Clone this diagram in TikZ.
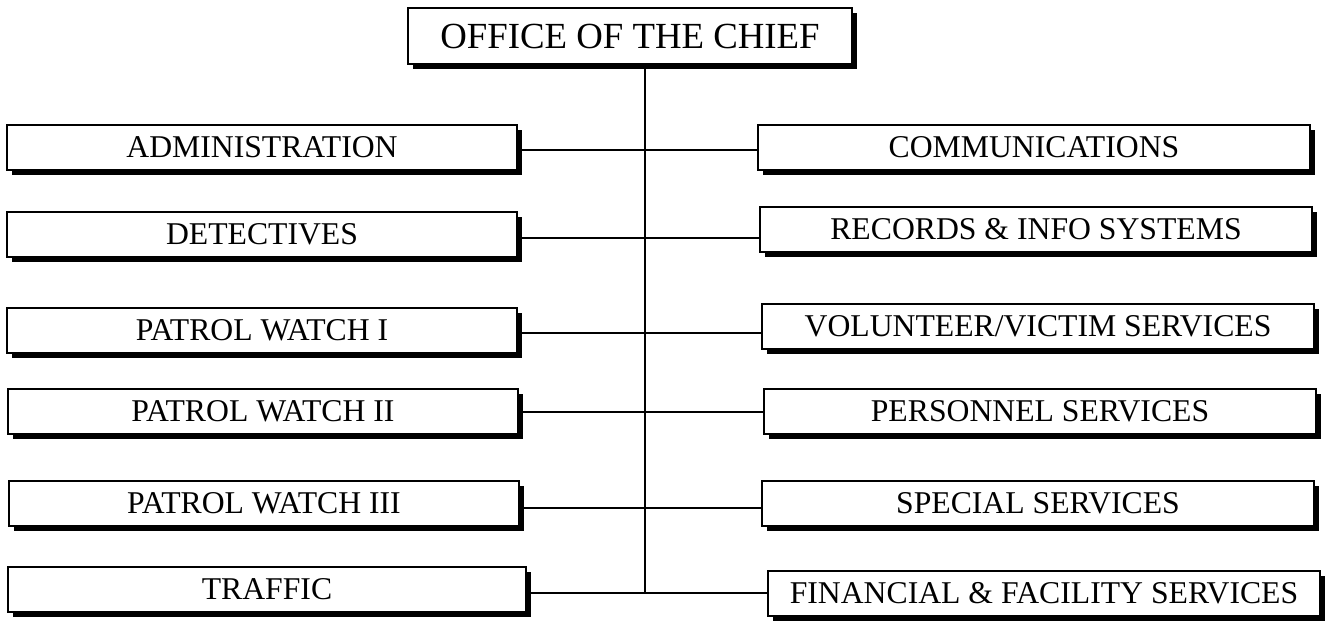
\documentclass[tikz,border=0pt]{standalone}
\usepackage{fontspec}
\setmainfont{Liberation Serif}
\usetikzlibrary{shadows}

\begin{document}
\begin{tikzpicture}[x=0.5pt, y=-0.5pt,
    unit/.style={draw, line width=1pt, fill=white, inner sep=0pt,
      minimum height=22.5pt, font=\fontsize{15.85}{18}\selectfont,
      drop shadow={shadow xshift=2.5pt, shadow yshift=-2.5pt,
        fill=black, opacity=1}},
    lunit/.style={unit, minimum width=255pt},
    runit/.style={unit, minimum width=276pt},
    link/.style={line width=0.8pt},
  ]
  \useasboundingbox (0,0) rectangle (1328,622);

  % Top: chief
  \node[unit, minimum width=222pt, minimum height=28pt,
    font=\fontsize{18.4}{22}\selectfont] (chief) at (630,36)
    {OFFICE OF THE CHIEF};

  % Left column
  \node[lunit] (admin)  at (262,147) {ADMINISTRATION};
  \node[lunit] (detect) at (262,234) {DETECTIVES};
  \node[lunit] (watchA) at (262,330) {PATROL WATCH I};
  \node[lunit] (watchB) at (263,411) {PATROL WATCH II};
  \node[lunit] (watchC) at (264,503) {PATROL WATCH III};
  \node[lunit, minimum width=259pt] (traffic) at (267,589) {TRAFFIC};

  % Right column
  \node[runit] (comms)   at (1034,147) {COMMUNICATIONS};
  \node[runit] (records) at (1036,229) {RECORDS \& INFO SYSTEMS};
  \node[runit] (victim)  at (1038,326) {VOLUNTEER/VICTIM SERVICES};
  \node[runit] (staff)   at (1040,411) {PERSONNEL SERVICES};
  \node[runit] (special) at (1038,503) {SPECIAL SERVICES};
  \node[runit] (finance) at (1044,593) {FINANCIAL \& FACILITY SERVICES};

  % Trunk
  \coordinate (trunk) at (645,593);
  \draw[link] (chief.south -| trunk) -- (trunk);

  % Branches
  \draw[link] (admin.east |- 0,150) -- (comms.west |- 0,150);
  \draw[link] (detect.east |- 0,238) -- (records.west |- 0,238);
  \draw[link] (watchA.east |- 0,333) -- (victim.west |- 0,333);
  \draw[link] (watchB.east |- 0,412) -- (staff.west |- 0,412);
  \draw[link] (watchC.east |- 0,508) -- (special.west |- 0,508);
  \draw[link] (traffic.east |- trunk) -- (finance.west |- trunk);

\end{tikzpicture}
\end{document}
